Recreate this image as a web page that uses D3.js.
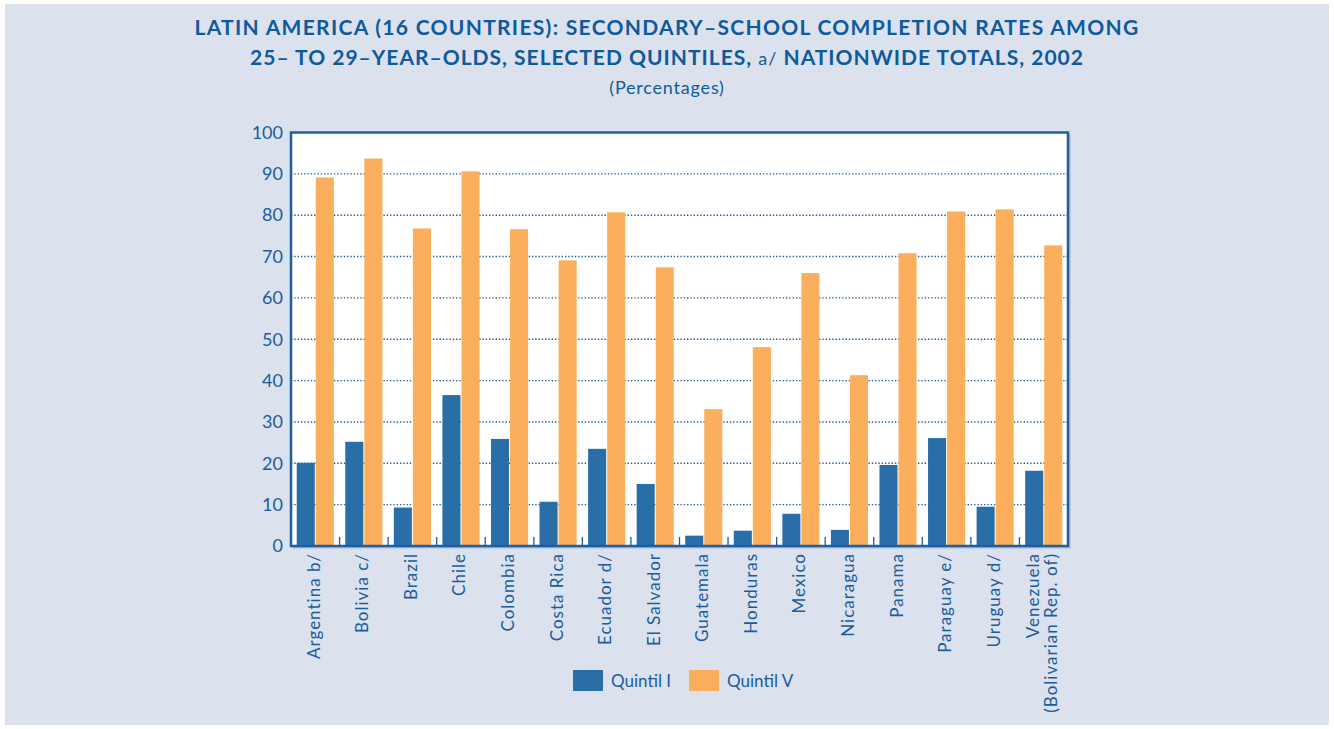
<!DOCTYPE html>
<html>
<head>
<meta charset="utf-8">
<script src="https://cdn.jsdelivr.net/npm/d3@7"></script>
<style>
  html, body { margin: 0; padding: 0; background: #ffffff; }
  svg { display: block; font-family: "Lato", "DejaVu Sans", sans-serif; }
</style>
</head>
<body>
<svg id="chart" width="1334" height="729"></svg>
<script>
// Secondary-school completion rates, 25–29-year-olds, 2002 (percentages)
const countries = [
  "Argentina b/", "Bolivia c/", "Brazil", "Chile", "Colombia", "Costa Rica",
  "Ecuador d/", "El Salvador", "Guatemala", "Honduras", "Mexico", "Nicaragua",
  "Panama", "Paraguay e/", "Uruguay d/", "Venezuela\n(Bolivarian Rep. of)"
];
const quintil1 = [20.1, 25.2, 9.3, 36.5, 25.9, 10.7, 23.5, 15.0, 2.5, 3.7, 7.8, 3.9, 19.6, 26.1, 9.5, 18.2];
const quintil5 = [89.1, 93.7, 76.8, 90.6, 76.6, 69.1, 80.7, 67.4, 33.1, 48.1, 66.0, 41.3, 70.8, 80.9, 81.4, 72.7];
const seriesNames = ["Quintil I", "Quintil V"];
const yTicks = [0, 10, 20, 30, 40, 50, 60, 70, 80, 90, 100];

const colors = ["#2a6ea8", "#fbaf5d"];
const ink = "#1a5c9c";

const svg = d3.select("#chart");
const W = 1334, H = 729;

// panel background
svg.append("rect").attr("x", 5).attr("y", 4).attr("width", W - 10).attr("height", H - 8)
  .attr("fill", "#dce1ee");

// titles
const title = svg.append("g").attr("fill", "#0d5a9c").attr("text-anchor", "middle");
title.append("text").attr("x", 667).attr("y", 35)
  .attr("font-size", 21).attr("font-weight", 700).attr("letter-spacing", 1.3)
  .text("LATIN AMERICA (16 COUNTRIES): SECONDARY–SCHOOL COMPLETION RATES AMONG");
const t2 = title.append("text").attr("x", 667).attr("y", 65)
  .attr("font-size", 21).attr("font-weight", 700).attr("letter-spacing", 1.0);
t2.append("tspan").text("25– TO 29–YEAR–OLDS, SELECTED QUINTILES, ");
t2.append("tspan").attr("font-weight", 400).attr("font-size", 18).text("a/");
t2.append("tspan").text(" NATIONWIDE TOTALS, 2002");
title.append("text").attr("x", 667).attr("y", 94)
  .attr("font-size", 18).attr("font-weight", 400).attr("letter-spacing", 0.8)
  .text("(Percentages)");

// plot area
const m = { left: 291, top: 132.5, right: 1068, bottom: 546 };
const x = d3.scaleBand().domain(countries).range([m.left, m.right]).paddingInner(0).paddingOuter(0);
const xs = d3.scaleBand().domain(seriesNames).range([0, x.bandwidth()]).paddingInner(0.053).paddingOuter(0.3);
const y = d3.scaleLinear().domain([0, 100]).range([m.bottom, m.top]);

// shadow + white plot
svg.append("rect").attr("x", m.left + 1.5).attr("y", m.top + 1.5)
  .attr("width", m.right - m.left + 1).attr("height", m.bottom - m.top + 1)
  .attr("fill", "#a9bddb");
svg.append("rect").attr("x", m.left).attr("y", m.top)
  .attr("width", m.right - m.left).attr("height", m.bottom - m.top)
  .attr("fill", "#ffffff");

// dotted gridlines
svg.append("g").selectAll("line").data(yTicks.filter(d => d > 0 && d < 100)).join("line")
  .attr("x1", m.left).attr("x2", m.right)
  .attr("y1", d => y(d)).attr("y2", d => y(d))
  .attr("stroke", "#1f5fa0").attr("stroke-width", 1.4).attr("stroke-dasharray", "1.4,1.9");

// bars
const groups = svg.append("g").selectAll("g").data(countries).join("g")
  .attr("transform", d => `translate(${x(d)},0)`);
groups.selectAll("rect")
  .data((d, i) => [quintil1[i], quintil5[i]].map((v, k) => ({ key: seriesNames[k], v, k })))
  .join("rect")
  .attr("x", d => xs(d.key)).attr("width", xs.bandwidth())
  .attr("y", d => y(d.v)).attr("height", d => y(0) - y(d.v))
  .attr("fill", d => colors[d.k]);

// category boundary ticks along the base
svg.append("g").selectAll("line").data(countries.slice(1)).join("line")
  .attr("x1", d => x(d)).attr("x2", d => x(d))
  .attr("y1", m.bottom).attr("y2", m.bottom - 9)
  .attr("stroke", ink).attr("stroke-width", 1.3);

// frame
svg.append("rect").attr("x", m.left).attr("y", m.top)
  .attr("width", m.right - m.left).attr("height", m.bottom - m.top)
  .attr("fill", "none").attr("stroke", "#1f5fa0").attr("stroke-width", 2.5);

// y axis labels
const yAxis = d3.axisLeft(y).tickValues(yTicks).tickSize(0).tickPadding(8);
const ya = svg.append("g").attr("transform", `translate(${m.left},0)`).call(yAxis);
ya.select(".domain").remove();
ya.selectAll("text").attr("font-size", 18).attr("fill", ink)
  .attr("font-family", "Lato, sans-serif");

// x labels (rotated)
const xl = svg.append("g").attr("fill", ink).attr("font-size", 17).attr("letter-spacing", 1);
countries.forEach(c => {
  const lines = c.split("\n");
  const cx = x(c) + x.bandwidth() / 2;
  const step = 17.5;
  lines.forEach((ln, j) => {
    const off = (j - (lines.length - 1) / 2) * step;
    xl.append("text")
      .attr("transform", `translate(${cx + off + 4.5},553) rotate(-90)`)
      .attr("text-anchor", "end")
      .text(ln);
  });
});

// legend
const lg = svg.append("g").attr("font-size", 17).attr("fill", ink);
const legendItems = [
  { name: seriesNames[0], color: colors[0], x: 573 },
  { name: seriesNames[1], color: colors[1], x: 689 }
];
legendItems.forEach(it => {
  lg.append("rect").attr("x", it.x).attr("y", 670).attr("width", 30).attr("height", 21).attr("fill", it.color);
  lg.append("text").attr("x", it.x + 38).attr("y", 686.5).text(it.name);
});
</script>
</body>
</html>
